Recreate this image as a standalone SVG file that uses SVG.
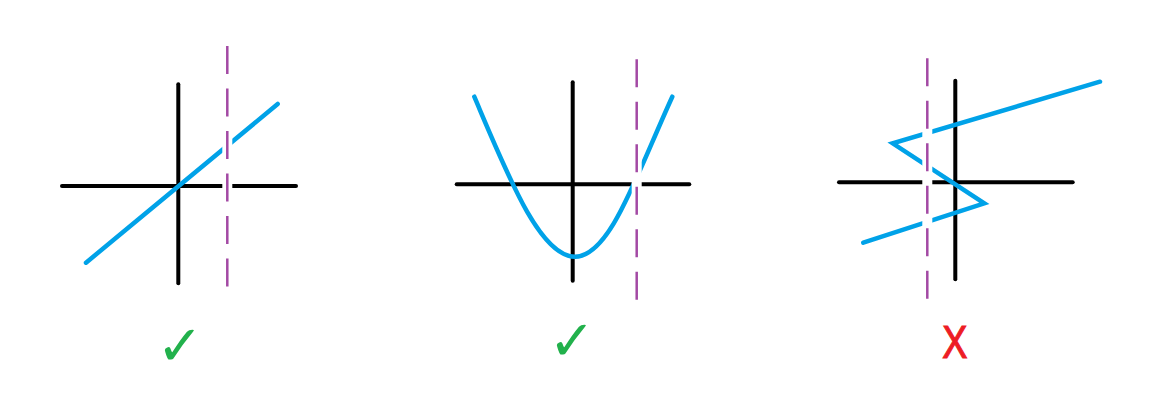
<svg xmlns="http://www.w3.org/2000/svg" width="1166" height="420" viewBox="0 0 1166 420">
<style>
.axis{stroke:#000;stroke-width:4;stroke-linecap:round;fill:none}
.curve{stroke:#00A2E8;stroke-width:4.5;stroke-linecap:round;stroke-linejoin:miter;fill:none}
.halo{stroke:#fff;stroke-width:10;fill:none}
.vline{stroke:#A349A4;stroke-width:2.5;stroke-dasharray:28 14.5;fill:none}
.mark{font-family:"DejaVu Sans",sans-serif;font-size:56px;text-anchor:middle}
</style>
<rect width="1166" height="420" fill="#fff"/>
<g id="plot1">
<line class="axis" x1="62" y1="186" x2="296" y2="186"/>
<line class="axis" x1="178.3" y1="84.3" x2="178.3" y2="283.3"/>
<line class="curve" x1="86" y1="262.7" x2="277.7" y2="104"/>
<line class="halo" x1="227.3" y1="46" x2="227.3" y2="289"/>
<line class="vline" x1="227.3" y1="46" x2="227.3" y2="289"/>
</g>
<g id="plot2">
<line class="axis" x1="456.7" y1="184.3" x2="689.3" y2="184.3"/>
<line class="axis" x1="572.7" y1="82.3" x2="572.7" y2="280.7"/>
<path class="curve" d="M474.3,96.7 C508,176 540,256.7 575,256.7 C610,256.7 636,176 672.3,96.7"/>
<line class="halo" x1="636.7" y1="59.3" x2="636.7" y2="301.7"/>
<line class="vline" x1="636.7" y1="59.3" x2="636.7" y2="301.7"/>
</g>
<g id="plot3">
<line class="axis" x1="839" y1="182.3" x2="1072.7" y2="182.3"/>
<line class="axis" x1="955.3" y1="80.7" x2="955.3" y2="279.3"/>
<polyline class="curve" points="863.3,242.7 984.3,203.3 892.7,143.3 1100,81.7"/>
<line class="halo" x1="927.3" y1="58.3" x2="927.3" y2="301.7"/>
<line class="vline" x1="927.3" y1="58.3" x2="927.3" y2="301.7"/>
</g>
<g id="labels">
<text class="mark" x="180" y="365" fill="#22B14C">✓</text>
<text class="mark" x="572" y="360" fill="#22B14C">✓</text>
<text transform="translate(954.7,358) scale(0.82,1)" fill="#ED1C24" stroke="#ED1C24" stroke-width="1.2" font-family="Liberation Sans, sans-serif" font-size="46" text-anchor="middle">X</text>
</g>
</svg>
